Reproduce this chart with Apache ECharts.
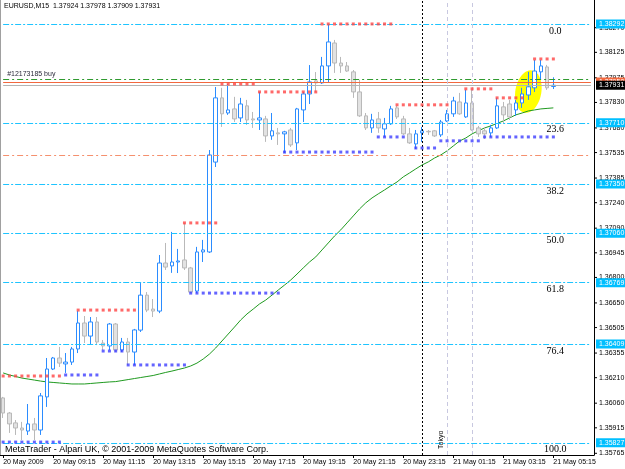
<!DOCTYPE html>
<html>
<head>
<meta charset="utf-8">
<script src="https://cdn.jsdelivr.net/npm/echarts@6/dist/echarts.min.js"></script>
<style>
  html, body { margin: 0; padding: 0; background: #fff; }
  #chart { width: 625px; height: 469px; }
</style>
</head>
<body>
<div id="chart"></div>
<script>
// EURUSD M15, 20 May 2009 07:15 -> 21 May 05:15 (89 bars)
const opens = [
  1.36091,1.36002,1.35944,1.35914,1.35896,1.35938,1.35902,1.36097,1.36261,1.36326,
  1.36291,1.36302,1.36379,1.36532,1.36455,1.36538,1.36414,1.36397,1.36526,1.36373,
  1.36420,1.36361,1.36490,1.36696,1.36614,1.36602,1.36885,1.36868,1.36891,1.36903,
  1.36856,1.36720,1.36950,1.36950,1.37479,1.37857,1.37768,1.37792,1.37739,1.37810,
  1.37733,1.37727,1.37733,1.37633,1.37651,1.37645,1.37668,1.37592,1.37786,1.37880,
  1.37957,1.37945,1.38045,1.38180,1.38062,1.38045,1.38010,1.37892,1.37751,1.37680,
  1.37733,1.37674,1.37704,1.37798,1.37733,1.37645,1.37586,1.37651,1.37660,1.37663,
  1.37639,1.37721,1.37763,1.37833,1.37745,1.37827,1.37680,1.37663,1.37651,1.37680,
  1.37804,1.37821,1.37786,1.37827,1.37874,1.37916,1.38010,1.38039,1.37924];
const highs = [
  1.36097,1.36008,1.35961,1.35950,1.36055,1.35973,1.36120,1.36326,1.36332,1.36391,
  1.36355,1.36391,1.36603,1.36573,1.36567,1.36567,1.36432,1.36532,1.36532,1.36444,
  1.36444,1.36497,1.36767,1.36714,1.36673,1.36932,1.37003,1.37068,1.36968,1.37121,
  1.36862,1.36980,1.37021,1.37550,1.37921,1.37916,1.37939,1.37863,1.37857,1.37845,
  1.37774,1.37892,1.37751,1.37768,1.37680,1.37663,1.37680,1.37798,1.37892,1.38050,
  1.38009,1.38098,1.38292,1.38198,1.38098,1.38068,1.38021,1.37962,1.37768,1.37763,
  1.37774,1.37739,1.37810,1.37810,1.37751,1.37680,1.37668,1.37686,1.37668,1.37668,
  1.37727,1.37786,1.37863,1.37886,1.37904,1.37904,1.37692,1.37686,1.37698,1.37857,
  1.37833,1.37845,1.37845,1.37916,1.38010,1.38080,1.38080,1.38051,1.37978];
const lows = [
  1.35973,1.35885,1.35873,1.35843,1.35873,1.35843,1.35873,1.36038,1.36255,1.36273,
  1.36238,1.36285,1.36355,1.36414,1.36408,1.36402,1.36373,1.36373,1.36361,1.36361,
  1.36285,1.36285,1.36479,1.36596,1.36567,1.36590,1.36844,1.36827,1.36826,1.36844,
  1.36708,1.36708,1.36891,1.36944,1.37450,1.37686,1.37757,1.37715,1.37715,1.37698,
  1.37680,1.37668,1.37598,1.37610,1.37580,1.37532,1.37568,1.37550,1.37715,1.37821,
  1.37892,1.37939,1.37945,1.38004,1.38004,1.38010,1.37857,1.37745,1.37668,1.37651,
  1.37651,1.37627,1.37698,1.37733,1.37639,1.37586,1.37556,1.37598,1.37639,1.37627,
  1.37627,1.37715,1.37745,1.37757,1.37739,1.37663,1.37627,1.37615,1.37627,1.37674,
  1.37709,1.37727,1.37751,1.37798,1.37845,1.37892,1.37962,1.37904,1.37909];
const closes = [
  1.36002,1.35938,1.35914,1.35902,1.35938,1.35902,1.36103,1.36261,1.36326,1.36296,
  1.36302,1.36379,1.36532,1.36455,1.36538,1.36420,1.36397,1.36526,1.36373,1.36420,
  1.36361,1.36491,1.36696,1.36608,1.36602,1.36885,1.36861,1.36891,1.36897,1.36856,
  1.36714,1.36950,1.36962,1.37521,1.37857,1.37763,1.37786,1.37733,1.37821,1.37727,
  1.37727,1.37739,1.37633,1.37663,1.37645,1.37657,1.37580,1.37792,1.37880,1.37951,
  1.37945,1.38045,1.38186,1.38062,1.38045,1.38015,1.37892,1.37751,1.37680,1.37727,
  1.37680,1.37704,1.37792,1.37745,1.37645,1.37592,1.37645,1.37663,1.37657,1.37633,
  1.37715,1.37763,1.37839,1.37763,1.37827,1.37668,1.37645,1.37645,1.37680,1.37810,
  1.37757,1.37745,1.37827,1.37880,1.37922,1.38015,1.38045,1.37916,1.37931];
// green moving average
const ma = [
  1.36238,1.36226,1.36217,1.36208,1.36202,1.36196,1.36190,1.36185,1.36182,1.36179,
  1.36176,1.36173,1.36173,1.36173,1.36176,1.36179,1.36182,1.36185,1.36187,1.36193,
  1.36199,1.36205,1.36211,1.36217,1.36223,1.36232,1.36241,1.36249,1.36258,1.36267,
  1.36279,1.36296,1.36320,1.36349,1.36385,1.36426,1.36467,1.36508,1.36550,1.36585,
  1.36614,1.36644,1.36667,1.36696,1.36726,1.36755,1.36785,1.36820,1.36856,1.36891,
  1.36921,1.36962,1.37003,1.37044,1.37080,1.37121,1.37162,1.37203,1.37239,1.37268,
  1.37292,1.37315,1.37339,1.37362,1.37392,1.37415,1.37439,1.37462,1.37480,1.37503,
  1.37521,1.37545,1.37574,1.37603,1.37621,1.37645,1.37663,1.37680,1.37692,1.37707,
  1.37721,1.37739,1.37757,1.37768,1.37780,1.37786,1.37792,1.37795,1.37798];

// fibonacci retracement
const fibLevels = [1.38292, 1.37710, 1.37350, 1.37060, 1.36769, 1.36409, 1.35827];
const fibNames = ['0.0', '23.6', '38.2', '50.0', '61.8', '76.4', '100.0'];

// fractal levels: [price, first bar, last bar]
const resistance = [[1.36220,0,9],[1.36608,12,21],[1.37121,29,34],[1.37939,35,40],[1.37892,41,50],
  [1.38292,51,62],[1.37816,63,71],[1.37910,74,78],[1.37857,79,83],[1.38086,85,88]];
const support = [[1.35831,0,9],[1.36226,10,15],[1.36367,16,19],[1.36285,20,29],[1.36708,30,44],
  [1.37538,45,59],[1.37627,60,64],[1.37562,66,69],[1.37604,70,76],[1.37627,77,88]];

const bidPrice = 1.37931, askPrice = 1.37950, orderPrice = 1.37968, dayLevel = 1.37518;
const priceTicks = [1.38270,1.38125,1.37975,1.37830,1.37680,1.37535,1.37385,1.37240,1.37090,
  1.36945,1.36800,1.36650,1.36505,1.36355,1.36210,1.36060,1.35915,1.35765];
const timeTicks = ['20 May 2009','20 May 09:15','20 May 11:15','20 May 13:15','20 May 15:15',
  '20 May 17:15','20 May 19:15','20 May 21:15','20 May 23:15','21 May 01:15','21 May 03:15','21 May 05:15'];

const totalSlots = 95; // 89 bars + chart shift
const categories = [];
for (let i = 0; i < totalSlots; i++) {
  const m = 7 * 60 + 15 + 15 * i;
  const d = 20 + Math.floor(m / 1440);
  const hh = Math.floor((m % 1440) / 60), mm = m % 60;
  categories.push(d + ' May ' + String(hh).padStart(2, '0') + ':' + String(mm).padStart(2, '0'));
}

const F = 'Liberation Sans, Arial, sans-serif';
const showTick = i => i % 8 === 0 && i / 8 < timeTicks.length;

function dots(segs) {
  const out = [];
  segs.forEach(s => { for (let i = s[1]; i <= s[2]; i++) out.push([i, s[0]]); });
  return out;
}

// horizontal helper lines across the whole chart
const hLine = (v, color, type) => [{coord: [0, v], lineStyle: {color: color, width: 1, type: type}}, {coord: [totalSlots - 1, v]}];
const lineMarks = fibLevels.map(v => hLine(v, '#1ec4ff', [6, 2, 2, 2])).concat([
  hLine(dayLevel, '#f5906e', [6, 3, 2, 3]),
  hLine(orderPrice, '#2f9a2f', [6, 3, 2, 3]),
  hLine(askPrice, '#f2683f', 'solid'),
  hLine(bidPrice, '#b4b4b4', 'solid')
]);

const chart = echarts.init(document.getElementById('chart'));

const option = {
  animation: false,
  backgroundColor: '#fff',
  title: {
    text: 'EURUSD,M15  ' + [opens[88], highs[88], lows[88], closes[88]].map(v => v.toFixed(5)).join(' '),
    left: 4, top: 3, padding: 0,
    textStyle: {fontSize: 7, fontWeight: 'normal', fontFamily: F, color: '#000'}
  },
  graphic: [{
    type: 'text', left: 5, top: 445,
    style: {text: 'MetaTrader - Alpari UK, \u00a9 2001-2009 MetaQuotes Software Corp.', fontSize: 9, fontFamily: F, fill: '#000'}
  }],
  grid: {left: 0, right: 31, top: 0, bottom: 14},
  xAxis: {
    type: 'category', data: categories, boundaryGap: true,
    axisLine: {lineStyle: {color: '#000', width: 1}},
    axisTick: {show: true, interval: showTick, alignWithLabel: true, length: 3, lineStyle: {color: '#000'}},
    axisLabel: {interval: showTick, formatter: (v, i) => timeTicks[i / 8] || '', align: 'left',
      fontSize: 7, fontFamily: F, color: '#000', margin: 4},
    splitLine: {show: false}
  },
  yAxis: [{
    type: 'value', position: 'right', min: 1.35755, max: 1.38433,
    axisLine: {show: true, lineStyle: {color: '#000'}},
    axisTick: {show: false}, axisLabel: {show: false}, splitLine: {show: false}
  }, {
    type: 'value', position: 'left', min: 1.35755, max: 1.38433,
    axisLine: {show: true, lineStyle: {color: '#a0a0a0'}},
    axisTick: {show: false}, axisLabel: {show: false}, splitLine: {show: false}
  }],
  series: [
    {
      name: 'ellipse', type: 'custom', z: 1, silent: true,
      data: [[84, 1.37894]],
      renderItem: (params, api) => {
        const c = api.coord([api.value(0), api.value(1)]);
        const rx = 13, ry = 21.5, a = 10 * Math.PI / 180;
        const pts = [];
        for (let k = 0; k < 48; k++) {
          const t = k / 48 * Math.PI * 2;
          const ex = rx * Math.cos(t), ey = ry * Math.sin(t);
          pts.push([c[0] + ex * Math.cos(a) - ey * Math.sin(a), c[1] + ex * Math.sin(a) + ey * Math.cos(a)]);
        }
        return {type: 'polygon', shape: {points: pts}, style: {fill: '#ffff00'}};
      }
    },
    {
      name: 'MA', type: 'line', data: ma, z: 3, showSymbol: false, silent: true,
      lineStyle: {color: '#1f9a1f', width: 1},
      markLine: {
        silent: true, symbol: ['none', 'none'], label: {show: false}, animation: false,
        data: lineMarks.concat([
          {xAxis: 67, lineStyle: {color: '#000', width: 1, type: [2, 2]}},
          {xAxis: 71, lineStyle: {color: '#c8c8e0', width: 1, type: [4, 3]}},
          {xAxis: 75, lineStyle: {color: '#c8c8e0', width: 1, type: [4, 3]}}
        ])
      }
    },
    {
      name: 'EURUSD', type: 'candlestick', z: 4, barWidth: 4, silent: true,
      data: closes.map((c, i) => [opens[i], c, lows[i], highs[i]]),
      itemStyle: {color: '#ffffff', color0: '#e2e2e2', borderColor: '#2b8cff', borderColor0: '#b9b9b9', borderWidth: 1}
    },
    {
      name: 'resistance', type: 'scatter', z: 5, silent: true, symbol: 'rect', symbolSize: 3,
      data: dots(resistance), itemStyle: {color: '#ff4444'}
    },
    {
      name: 'support', type: 'scatter', z: 5, silent: true, symbol: 'rect', symbolSize: 3,
      data: dots(support), itemStyle: {color: '#3d3dff'}
    },
    {
      name: 'priceScale', type: 'custom', z: 6, silent: true, clip: false,
      data: priceTicks.map(v => [0, v]),
      renderItem: (params, api) => {
        const y = api.coord([0, api.value(1)])[1];
        const xr = params.coordSys.x + params.coordSys.width;
        return {type: 'group', children: [
          {type: 'line', shape: {x1: xr, y1: y, x2: xr + 3, y2: y}, style: {stroke: '#000', lineWidth: 1}},
          {type: 'text', x: xr + 5, y: y, style: {text: api.value(1).toFixed(5), fontSize: 7, fontFamily: F,
            fill: '#000', textAlign: 'left', align: 'left', textVerticalAlign: 'middle', verticalAlign: 'middle'}}
        ]};
      }
    },
    {
      name: 'fibTags', type: 'custom', z: 7, silent: true, clip: false,
      data: fibLevels.map(v => [88, v]),
      renderItem: (params, api) => {
        const p = api.coord([api.value(0), api.value(1)]);
        const xr = params.coordSys.x + params.coordSys.width;
        return {type: 'group', children: [
          {type: 'text', x: p[0] + 2, y: p[1] + 2, style: {text: fibNames[params.dataIndex], fontSize: 10,
            fontFamily: 'Liberation Serif, serif', fill: '#000', textAlign: 'center', align: 'center',
            textVerticalAlign: 'top', verticalAlign: 'top'}},
          {type: 'rect', shape: {x: xr + 2, y: p[1] - 4.5, width: 40, height: 9}, style: {fill: '#00bfff'}},
          {type: 'text', x: xr + 5, y: p[1], style: {text: api.value(1).toFixed(5), fontSize: 7, fontFamily: F,
            fill: '#fff', textAlign: 'left', align: 'left', textVerticalAlign: 'middle', verticalAlign: 'middle'}}
        ]};
      }
    },
    {
      name: 'quoteTags', type: 'custom', z: 8, silent: true, clip: false,
      data: [[0, askPrice, 0], [0, bidPrice, 1]],
      renderItem: (params, api) => {
        const y = api.coord([0, api.value(1)])[1];
        const xr = params.coordSys.x + params.coordSys.width;
        const isBid = api.value(2) === 1;
        return {type: 'group', children: [
          {type: 'rect', shape: {x: xr + 2, y: y - 4.5, width: 40, height: 9}, style: {fill: isBid ? '#000' : '#f2683f'}},
          {type: 'text', x: xr + 5, y: y, style: {text: api.value(1).toFixed(5), fontSize: 7, fontFamily: F,
            fill: '#fff', textAlign: 'left', align: 'left', textVerticalAlign: 'middle', verticalAlign: 'middle'}}
        ]};
      }
    },
    {
      name: 'notes', type: 'custom', z: 8, silent: true, clip: false,
      data: [[0, orderPrice, 0], [71, 1.35755, 1]],
      renderItem: (params, api) => {
        const p = api.coord([api.value(0), api.value(1)]);
        if (api.value(2) === 0) {
          return {type: 'text', x: p[0] + 4, y: p[1] - 1, style: {text: '#12173185 buy', fontSize: 7, fontFamily: F,
            fill: '#2a2a3a', textAlign: 'left', align: 'left', textVerticalAlign: 'bottom', verticalAlign: 'bottom'}};
        }
        return {type: 'text', x: p[0] - 6.5, y: p[1] - 6, rotation: Math.PI / 2,
          style: {text: 'Tokyo', fontSize: 7, fontFamily: F, fill: '#000', textAlign: 'left', align: 'left',
            textVerticalAlign: 'middle', verticalAlign: 'middle'}};
      }
    }
  ]
};

chart.setOption(option);
</script>
</body>
</html>
